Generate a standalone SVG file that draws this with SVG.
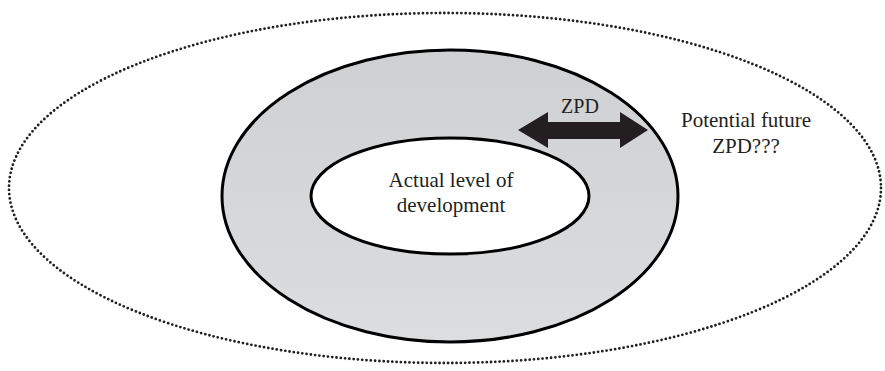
<svg xmlns="http://www.w3.org/2000/svg" width="885" height="371" viewBox="0 0 885 371">
<defs>
<linearGradient id="g" x1="0" y1="0" x2="0" y2="1">
<stop offset="0" stop-color="#cfd0d2"/>
<stop offset="1" stop-color="#dcdddf"/>
</linearGradient>
</defs>
<rect width="885" height="371" fill="#ffffff"/>
<g id="future">
<ellipse cx="445" cy="188" rx="436" ry="175" fill="none" stroke="#231f20" stroke-width="2.8" stroke-dasharray="0 4.3" stroke-linecap="round"/>
<text font-family="serif" font-size="21" fill="#231f20" text-anchor="middle" x="746" y="127">Potential future</text>
<text font-family="serif" font-size="21" fill="#231f20" text-anchor="middle" x="746" y="153">ZPD???</text>
</g>
<g id="zpd">
<ellipse cx="450" cy="196" rx="228" ry="146" fill="url(#g)" stroke="#000" stroke-width="3"/>
</g>
<g id="actual">
<ellipse cx="450" cy="196" rx="139" ry="58" fill="#fff" stroke="#000" stroke-width="3"/>
<text font-family="serif" font-size="21" fill="#231f20" text-anchor="middle" x="451" y="187">Actual level of</text>
<text font-family="serif" font-size="21" fill="#231f20" text-anchor="middle" x="451" y="212">development</text>
</g>
<g id="connectors">
<polygon points="518,130 548,112 548,122 620,122 620,112 648,130 620,148 620,139 548,139 548,148" fill="#231f20"/>
<text font-family="serif" font-size="20" fill="#231f20" text-anchor="middle" x="580" y="113">ZPD</text>
</g>
</svg>
